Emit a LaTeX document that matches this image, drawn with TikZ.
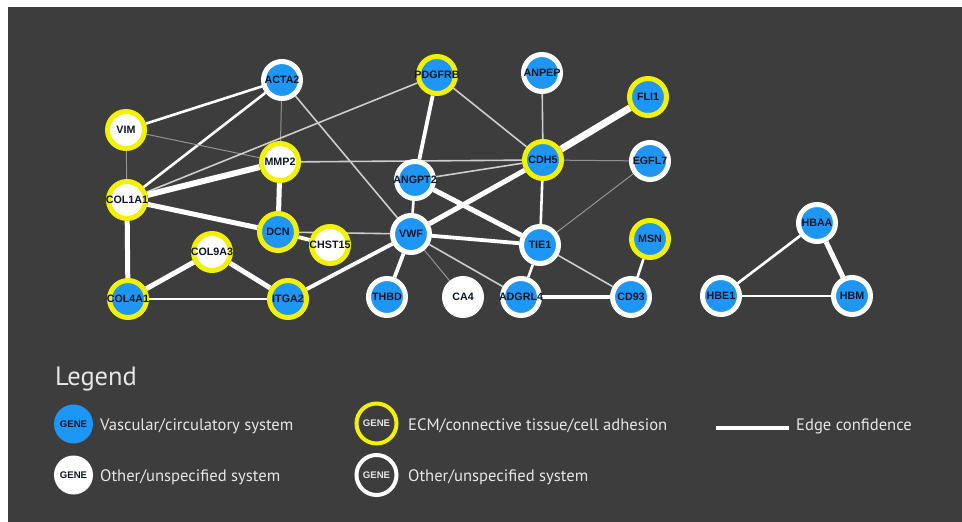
\documentclass[tikz,border=0pt]{standalone}
\usepackage{fontspec}
\setmainfont{PT Sans}
\newfontfamily\genefont{Liberation Sans}
\usetikzlibrary{backgrounds}

\definecolor{panel}{HTML}{3D3D3D}
\definecolor{geneblue}{HTML}{1E96F5}
\definecolor{geneyellow}{HTML}{F2F200}
\definecolor{genetext}{HTML}{0D1526}
\definecolor{faintedge}{HTML}{939393}
\definecolor{softedge}{HTML}{CDCDCD}
\definecolor{legtext}{HTML}{E6E6E6}

\tikzset{
  gene/.style={circle, minimum size=37pt, inner sep=0pt, line width=5pt},
  bw/.style={gene, fill=geneblue, draw=white},
  by/.style={gene, fill=geneblue, draw=geneyellow},
  wy/.style={gene, fill=white, draw=geneyellow},
  ww/.style={gene, fill=white, draw=white},
  lab/.style={font=\genefont\bfseries\fontsize{10.7}{11}\selectfont, text=genetext, inner sep=0pt},
  glab/.style={font=\genefont\bfseries\fontsize{9.6}{10}\selectfont, inner sep=0pt},
  legitem/.style={font=\fontsize{16.6}{20}\selectfont, text=legtext, anchor=base west, inner sep=0pt},
  wA/.style={line width=1pt, draw=faintedge},
  wB/.style={line width=1.6pt, draw=softedge},
  wC/.style={line width=2.6pt, draw=white},
  wD/.style={line width=3.8pt, draw=white},
  wE/.style={line width=5pt, draw=white},
  wF/.style={line width=7pt, draw=white},
}

\begin{document}
\begin{tikzpicture}[x=1pt, y=-1pt]
\useasboundingbox (0,0) rectangle (962,522);

% genes of the main network
\node[bw, label={[lab]center:ACTA2}]  (acta2)  at (282,80)  {};
\node[by, label={[lab]center:PDGFRB}] (pdgfrb) at (437,75)  {};
\node[bw, label={[lab]center:ANPEP}]  (anpep)  at (542,73)  {};
\node[by, label={[lab]center:FLI1}]   (fli1)   at (648,97)  {};
\node[wy, label={[lab]center:VIM}]    (vim)    at (126,130) {};
\node[wy, label={[lab]center:MMP2}]   (mmp2)   at (280,162) {};
\node[by, label={[lab]center:CDH5}]   (cdh5)   at (543,160) {};
\node[bw, label={[lab]center:EGFL7}]  (egfl7)  at (650,161) {};
\node[bw, label={[lab]center:ANGPT2}] (angpt2) at (415,180) {};
\node[wy, label={[lab]center:COL1A1}] (col1a1) at (127,200) {};
\node[by, label={[lab]center:DCN}]    (dcn)    at (278,232) {};
\node[wy, label={[lab]center:CHST15}] (chst15) at (330,245) {};
\node[bw, label={[lab]center:VWF}]    (vwf)    at (411,234) {};
\node[bw, label={[lab]center:TIE1}]   (tie1)   at (540,245) {};
\node[wy, label={[lab]center:COL9A3}] (col9a3) at (212,252) {};
\node[by, label={[lab]center:MSN}]    (msn)    at (650,239) {};
\node[by, label={[lab]center:COL4A1}] (col4a1) at (128,299) {};
\node[by, label={[lab]center:ITGA2}]  (itga2)  at (288,299) {};
\node[bw, label={[lab]center:THBD}]   (thbd)   at (387,297) {};
\node[ww, label={[lab]center:CA4}]    (ca4)    at (463,297) {};
\node[bw, label={[lab]center:ADGRL4}] (adgrl4) at (521,297) {};
\node[bw, label={[lab]center:CD93}]   (cd93)   at (631,297) {};

% haemoglobin triangle
\node[bw, label={[lab]center:HBAA}] (hbaa) at (817,223) {};
\node[bw, label={[lab]center:HBE1}] (hbe1) at (721,296) {};
\node[bw, label={[lab]center:HBM}]  (hbm)  at (852,296) {};

% legend
\node[font=\fontsize{26.5}{30}\selectfont, text=legtext, anchor=base west, inner sep=0pt] (legtitle) at (55,385) {Legend};

\node[circle, fill=geneblue, minimum size=39pt, inner sep=0pt,
      label={[glab, text=genetext]center:GENE}] (keyblue) at (73.5,424) {};
\node[legitem] (keybluetxt) at (100,430) {Vascular/circulatory system};

\node[circle, fill=white, minimum size=39pt, inner sep=0pt,
      label={[glab, text=genetext]center:GENE}] (keywhite) at (73.5,475) {};
\node[legitem] (keywhitetxt) at (100,481) {Other/unspecified system};

\node[circle, draw=geneyellow, line width=4pt, minimum size=40pt, inner sep=0pt,
      label={[glab, text=legtext]center:GENE}] (keyyellow) at (376.5,423.5) {};
\node[legitem] (keyyellowtxt) at (408,430) {ECM/connective tissue/cell adhesion};

\node[circle, draw=white, line width=4pt, minimum size=40pt, inner sep=0pt,
      label={[glab, text=legtext]center:GENE}] (keyring) at (376.5,475) {};
\node[legitem] (keyringtxt) at (408,481) {Other/unspecified system};

\coordinate (edgekeyA) at (716,428);
\coordinate (edgekeyB) at (789,428);
\node[legitem] (edgekeytxt) at (796,430) {Edge confidence};

\begin{scope}[on background layer]
  \fill[white] (0,0) rectangle (962,522);
  \fill[panel] (8,7) rectangle (961.5,522);

  \draw[wD] (edgekeyA) -- (edgekeyB);

  % interactions, line width by confidence
  \draw[wC] (acta2) -- (vim);
  \draw[wC] (acta2) -- (col1a1);
  \draw[wA] (acta2) -- (mmp2);
  \draw[wB] (acta2) -- (vwf);
  \draw[wA] (vim) -- (mmp2);
  \draw[wA] (vim) -- (col1a1);
  \draw[wB] (col1a1) -- (pdgfrb);
  \draw[line width=6pt, white] (col1a1) -- (mmp2);
  \draw[wE] (col1a1) -- (dcn);
  \draw[wE] (col1a1) -- (col4a1);
  \draw[wE] (mmp2) -- (dcn);
  \draw[wB] (mmp2) -- (cdh5);
  \draw[wD] (dcn) -- (chst15);
  \draw[wB] (dcn) -- (vwf);
  \draw[wE] (col9a3) -- (col4a1);
  \draw[wE] (col9a3) -- (itga2);
  \draw[wC] (col4a1) -- (itga2);
  \draw[wD] (itga2) -- (vwf);
  \draw[wD] (pdgfrb) -- (angpt2);
  \draw[wB] (pdgfrb) -- (cdh5);
  \draw[wB] (anpep) -- (cdh5);
  \draw[wF] (fli1) -- (cdh5);
  \draw[wA] (cdh5) -- (egfl7);
  \draw[wB] (cdh5) -- (angpt2);
  \draw[wE] (cdh5) -- (vwf);
  \draw[wC] (cdh5) -- (tie1);
  \draw[wE] (angpt2) -- (tie1);
  \draw[wC] (angpt2) -- (vwf);
  \draw[wA] (egfl7) -- (tie1);
  \draw[wD] (vwf) -- (tie1);
  \draw[wD] (vwf) -- (thbd);
  \draw[wA] (vwf) -- (ca4);
  \draw[wB] (vwf) -- (adgrl4);
  \draw[wC] (tie1) -- (adgrl4);
  \draw[wB] (tie1) -- (cd93);
  \draw[wD] (adgrl4) -- (cd93);
  \draw[wC] (msn) -- (cd93);
  \draw[wC] (hbaa) -- (hbe1);
  \draw[wE] (hbaa) -- (hbm);
  \draw[wC] (hbe1) -- (hbm);
\end{scope}
\end{tikzpicture}
\end{document}
